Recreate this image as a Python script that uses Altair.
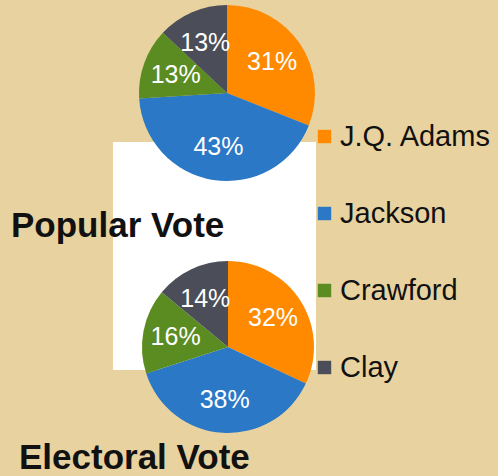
import altair as alt
import pandas as pd

candidates = ["J.Q. Adams", "Jackson", "Crawford", "Clay"]
popular_pct = [31, 43, 13, 13]
electoral_pct = [32, 38, 16, 14]
colors = ["#FF8A00", "#2A78C6", "#5A8C22", "#4B4E58"]
titles = ["Popular Vote", "Electoral Vote"]

rows = []
for name, vals in (("popular", popular_pct), ("electoral", electoral_pct)):
    for i, (c, v) in enumerate(zip(candidates, vals)):
        rows.append({"vote": name, "candidate": c, "pct": v, "idx": i, "label": f"{v}%"})
df = pd.DataFrame(rows)

color = alt.Color("candidate:N", scale=alt.Scale(domain=candidates, range=colors),
                  sort=candidates,
                  legend=alt.Legend(title=None, orient="none", legendX=310, legendY=122,
                                    symbolType="square", symbolSize=180, symbolStrokeWidth=0,
                                    labelFontSize=29, labelFont="Liberation Sans",
                                    labelColor="#111111", rowPadding=47, labelOffset=1))

base = alt.Chart(df)

bg_rect = base.mark_rect(color="white").encode(
    x=alt.value(113), x2=alt.value(316), y=alt.value(142), y2=alt.value(370)
).transform_filter(alt.datum.idx == 0).transform_filter(alt.datum.vote == "popular")

def pie(vote, cx, cy, r):
    b = base.transform_filter(alt.datum.vote == vote)
    arc = b.mark_arc(outerRadius=r).encode(
        x=alt.value(cx), y=alt.value(cy),
        theta=alt.Theta("pct:Q", stack=True),
        order=alt.Order("idx:Q"),
        color=color,
    )
    txt = b.mark_text(radius=r * 0.62, color="white", fontSize=25,
                      font="Liberation Sans", align="center", baseline="middle").encode(
        x=alt.value(cx), y=alt.value(cy),
        theta=alt.Theta("pct:Q", stack=True),
        order=alt.Order("idx:Q"),
        text="label:N",
    )
    return arc + txt

title_df = pd.DataFrame({"t": titles})
t1 = alt.Chart(title_df).transform_filter(alt.datum.t == titles[0]).mark_text(
    fontSize=35, fontWeight="bold", font="Liberation Sans", align="left", baseline="alphabetic",
    color="#111111").encode(x=alt.value(11), y=alt.value(237), text="t:N")
t2 = alt.Chart(title_df).transform_filter(alt.datum.t == titles[1]).mark_text(
    fontSize=35, fontWeight="bold", font="Liberation Sans", align="left", baseline="alphabetic",
    color="#111111").encode(x=alt.value(19), y=alt.value(469), text="t:N")

chart = alt.layer(
    bg_rect,
    pie("popular", 227, 93, 88),
    pie("electoral", 228, 347, 86),
    t1, t2,
).properties(
    width=498, height=476, padding=0, autosize="none", background="#E8D3A0"
).configure_view(strokeWidth=0)

chart.save("out.html", embed_options={"renderer": "svg", "actions": False})
